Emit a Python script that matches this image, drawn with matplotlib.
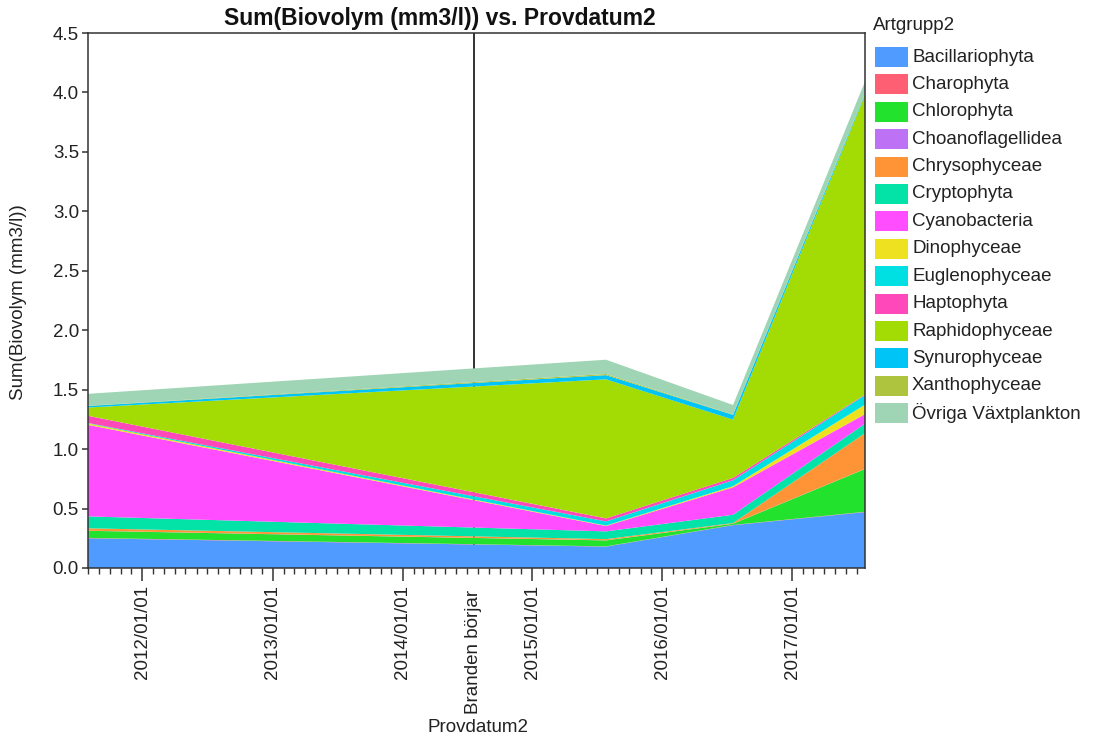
import matplotlib
matplotlib.use("Agg")
import matplotlib.pyplot as plt
import matplotlib.dates as mdates
from matplotlib.patches import Rectangle
import numpy as np
import datetime as dt

plt.rcParams['font.family'] = ['Liberation Sans', 'DejaVu Sans']

# Sampling dates
dates = [dt.date(2011, 8, 1), dt.date(2015, 7, 27), dt.date(2016, 7, 18), dt.date(2017, 7, 24)]
fire_date = dt.date(2014, 7, 20)
fire_label = "Branden börjar"

groups = ["Bacillariophyta", "Charophyta", "Chlorophyta", "Choanoflagellidea",
          "Chrysophyceae", "Cryptophyta", "Cyanobacteria", "Dinophyceae",
          "Euglenophyceae", "Haptophyta", "Raphidophyceae", "Synurophyceae",
          "Xanthophyceae", "Övriga Växtplankton"]

# Biovolume (mm3/l) per group at each sampling date
bacillariophyta = [0.25, 0.18, 0.36, 0.47]
charophyta = [0.003, 0.002, 0.002, 0.003]
chlorophyta = [0.06, 0.05, 0.01, 0.36]
choanoflagellidea = [0.001, 0.001, 0.001, 0.001]
chrysophyceae = [0.02, 0.01, 0.005, 0.30]
cryptophyta = [0.10, 0.065, 0.07, 0.08]
cyanobacteria = [0.77, 0.045, 0.23, 0.08]
dinophyceae = [0.012, 0.004, 0.01, 0.08]
euglenophyceae = [0.004, 0.035, 0.05, 0.08]
haptophyta = [0.06, 0.025, 0.02, 0.005]
raphidophyceae = [0.07, 1.17, 0.49, 2.52]
synurophyceae = [0.013, 0.035, 0.04, 0.01]
xanthophyceae = [0.002, 0.01, 0.003, 0.003]
ovriga = [0.10, 0.12, 0.08, 0.10]

series = [bacillariophyta, charophyta, chlorophyta, choanoflagellidea, chrysophyceae,
          cryptophyta, cyanobacteria, dinophyceae, euglenophyceae, haptophyta,
          raphidophyceae, synurophyceae, xanthophyceae, ovriga]

colors = ["#4F9BFF", "#FF5F72", "#22E22E", "#BD72F5", "#FF9437", "#03E2A7",
          "#FF4DFF", "#EEE11F", "#00E0E3", "#FF48B9", "#A3DC04", "#00C4F5",
          "#AEC43F", "#9FD5B5"]

TXT = "#222222"
FS = 13.5

fig = plt.figure(figsize=(10.93, 7.40), dpi=100)
W, H = 1093, 740
left, right, top, bottom = 88, 865, 33, 568
ax = fig.add_axes([left / W, 1 - bottom / H, (right - left) / W, (bottom - top) / H])


def fy(py):
    return 1 - py / H


x = mdates.date2num(dates)
polys = ax.stackplot(x, *series, colors=colors, labels=groups, linewidth=0, zorder=2)

# Fire start marker
ax.axvline(mdates.date2num(fire_date), color="#222222", lw=1.3, zorder=1)

ax.set_xlim(x[0], x[-1])
ax.set_ylim(0, 4.5)
ax.set_yticks(np.arange(0, 4.51, 0.5))
ax.yaxis.set_major_formatter(matplotlib.ticker.FormatStrFormatter('%.1f'))

ax.xaxis.set_major_locator(mdates.YearLocator())
ax.xaxis.set_minor_locator(mdates.MonthLocator())
ax.xaxis.set_major_formatter(mdates.DateFormatter('%Y/%m/%d'))
for lbl in ax.get_xticklabels():
    lbl.set_rotation(90)

ax.tick_params(axis='x', which='major', length=9, width=1.1, color="#333333",
               labelsize=FS, pad=3, labelcolor=TXT)
ax.tick_params(axis='x', which='minor', length=4.5, width=1.0, color="#333333")
ax.tick_params(axis='y', which='major', length=4.5, width=1.1, color="#333333",
               labelsize=FS, labelcolor=TXT, pad=2)
for s in ax.spines.values():
    s.set_linewidth(1.1)
    s.set_color("#333333")

fx = mdates.date2num(fire_date)
ax.annotate(fire_label, xy=(fx, 0), xycoords='data', xytext=(0, -16),
            textcoords='offset points', rotation=90, ha='center', va='top',
            fontsize=FS, color=TXT, annotation_clip=False)

fig.text(440 / W, fy(19), "Sum(Biovolym (mm3/l)) vs. Provdatum2", fontsize=16.5,
         fontweight='bold', ha='center', va='center', color="#111111")
ax.set_xlabel("Provdatum2", fontsize=FS, color=TXT)
ax.xaxis.set_label_coords((478 - left) / (right - left), -(727 - bottom) / (bottom - top))
ax.xaxis.label.set_va('center')
ax.set_ylabel("Sum(Biovolym (mm3/l))", fontsize=FS, color=TXT)
ax.yaxis.set_label_coords(-(left - 18) / (right - left), (bottom - 302) / (bottom - top))
ax.yaxis.label.set_va('center')

# Legend drawn in figure pixel coordinates
fig.text(873 / W, fy(26), "Artgrupp2", fontsize=FS, color=TXT, va='center', ha='left')
for i, (name, c) in enumerate(zip(groups, colors)):
    cy = 57 + 27.4 * i
    fig.add_artist(Rectangle((875 / W, fy(cy + 10)), 33 / W, 20 / H,
                             transform=fig.transFigure, facecolor=c, edgecolor='none'))
    fig.text(912 / W, fy(cy), name, fontsize=FS, color=TXT, va='center', ha='left')

fig.savefig("out.png", dpi=100)
